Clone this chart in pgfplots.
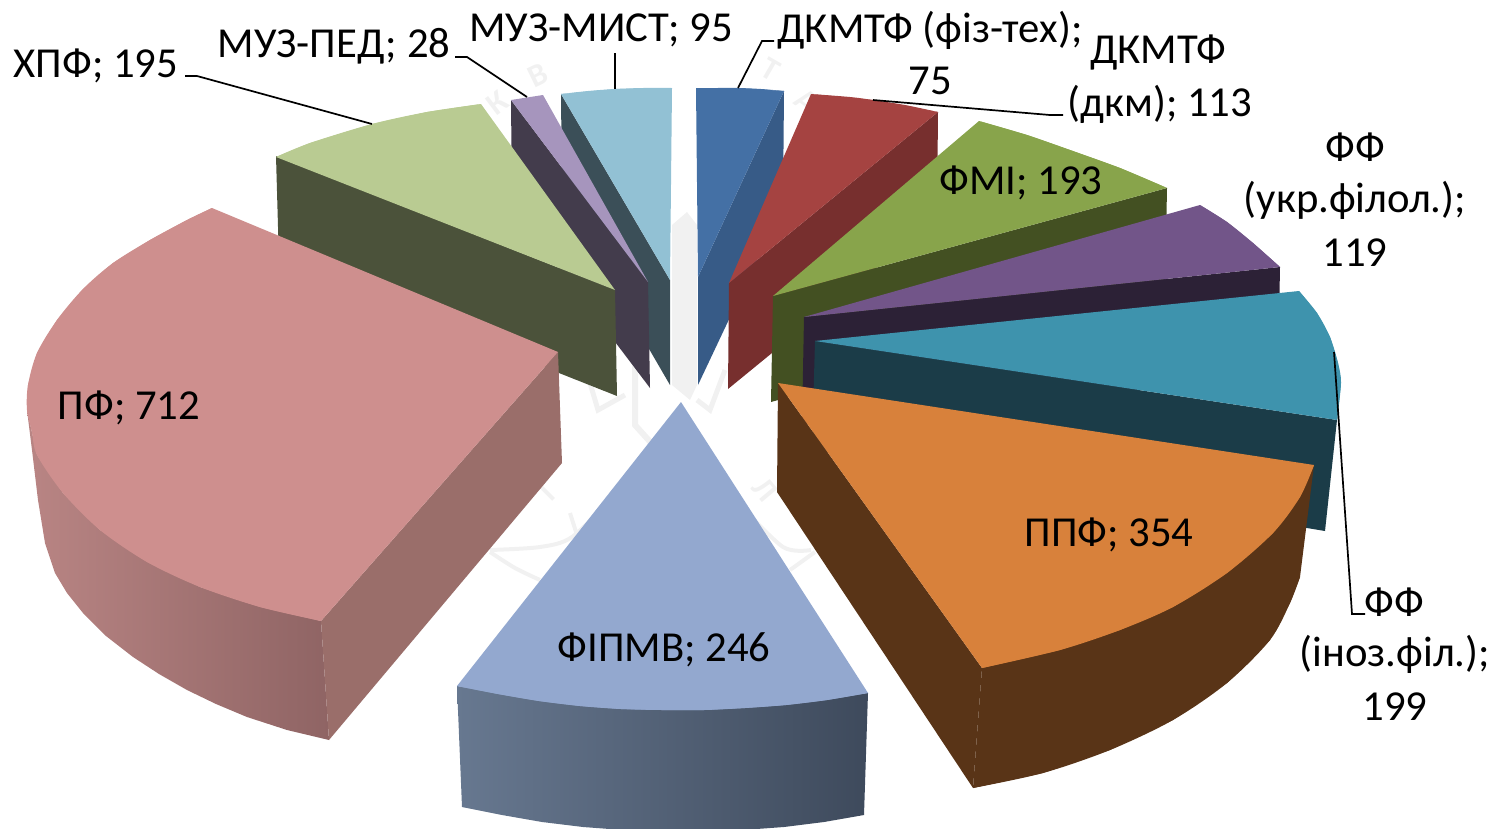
\documentclass[border=0pt]{standalone}
\usepackage{pgfplots}
\pgfplotsset{compat=1.18}
\usepackage{fontspec}
\setmainfont{Carlito}
\definecolor{bluT}{HTML}{4470A5}\definecolor{bluS}{HTML}{375B87}
\definecolor{redT}{HTML}{A54341}\definecolor{redS}{HTML}{772F2E}
\definecolor{grnT}{HTML}{88A44B}\definecolor{grnS}{HTML}{435022}
\definecolor{purT}{HTML}{725589}\definecolor{purS}{HTML}{2C2136}
\definecolor{teaT}{HTML}{3E93AD}\definecolor{teaS}{HTML}{1B3C48}
\definecolor{oraT}{HTML}{D8813B}\definecolor{oraS}{HTML}{593417}
\definecolor{lbuT}{HTML}{93A8CF}\definecolor{lbuA}{HTML}{677890}\definecolor{lbuB}{HTML}{3E4A5C}
\definecolor{pnkT}{HTML}{CE8F8E}\definecolor{pnkS}{HTML}{9A6E6A}\definecolor{pnkA}{HTML}{B98584}\definecolor{pnkB}{HTML}{8F6464}
\definecolor{lgrT}{HTML}{B9CB92}\definecolor{lgrS}{HTML}{4B523A}
\definecolor{lilT}{HTML}{A695BD}\definecolor{lilS}{HTML}{433C4C}
\definecolor{aquT}{HTML}{92C1D4}\definecolor{aquS}{HTML}{3B4F58}
\definecolor{wm}{HTML}{F1F1F1}
\pgfplotsset{face/.style={draw=none,fill=#1,no markers,forget plot},
 leader/.style={draw=black,line width=1.7pt,no markers,forget plot},
 wmline/.style={draw=wm,line width=#1,no markers,forget plot}}
\newcommand{\lab}[3]{\node[font=\fontsize{42.7}{48}\selectfont,inner sep=0pt,anchor=center,text=black] at (axis cs:#1,#2) {#3};}
\newcommand{\wl}[4]{\node[font=\fontsize{32}{36}\selectfont\bfseries,inner sep=0pt,text=wm,rotate=#4] at (axis cs:#1,#2) {#3};}
\begin{document}
\begin{tikzpicture}
\path[use as bounding box] (0,0) rectangle (1492pt,828pt);
\begin{axis}[at={(0,0)},anchor=south west,scale only axis,width=1492pt,height=828pt,
 xmin=0,xmax=1492,ymin=0,ymax=828,y dir=reverse,axis lines=none]
% faint watermark behind the chart
\wl{497}{103}{К}{37}\wl{538}{75}{В}{26}
\wl{771}{69}{Т}{-30}\wl{806}{101}{А}{-37}
\wl{547}{493}{Т}{45}\wl{765}{490}{Л}{-50}
\addplot[face=wm] coordinates {(687,212)(697,225)(697,385)(690,400)(672,385)(672,225)};
\addplot[wmline=6pt] coordinates {(635,300)(635,425)(653,445)};
\addplot[wmline=5pt] coordinates {(590,383)(598,410)(625,395)};
\addplot[wmline=5pt] coordinates {(725,370)(710,410)(697,400)};
\addplot[wmline=4pt,smooth] coordinates {(490,550)(540,547)(572,537)(613,497)};
\addplot[wmline=4pt,smooth] coordinates {(490,552)(515,568)(540,580)};
\addplot[wmline=4pt] coordinates {(570,513)(577,535)};
\addplot[wmline=4pt,smooth] coordinates {(740,505)(783,547)(811,550)};
\addplot[wmline=4pt] coordinates {(790,570)(815,552)};
% aqua
\addplot[face=aquS] coordinates {(561,94)(670,280)(670,385)(562,199)};
\addplot[face=aquT] coordinates {(561,94)(615,89)(672,88)(670,280)};
\addplot[face=aquT,smooth] coordinates {(561,94)(588,91)(615,89)(643,88)(672,88)};
% blue
\addplot[face=bluS] coordinates {(784,91)(698,277)(698,385)(783,205)};
\addplot[face=bluT] coordinates {(696,88)(738,88)(784,91)(698,277)};
\addplot[face=bluT,smooth] coordinates {(696,88)(717,88)(738,88)(761,89)(784,91)};
% red
\addplot[face=redS] coordinates {(938,112)(729,283)(728,389)(937,218)};
\addplot[face=redT] coordinates {(811,94)(873,100)(938,112)(729,283)};
\addplot[face=redT,smooth] coordinates {(811,94)(850,97)(873,100)(905,105)(938,112)};
% lilac
\addplot[face=lilS] coordinates {(511,100)(648,282)(650,388)(512,206)};
\addplot[face=lilT] coordinates {(511,100)(543,95)(648,282)};
% light green
\addplot[face=lgrS] coordinates {(615,290)(276,156)(279,262)(617,396)};
\addplot[face=lgrT] coordinates {(276,157)(310,143)(372,124)(427,112)(481,104)(615,290)};
\addplot[face=lgrT,smooth] coordinates {(276,157)(310,143)(372,124)(427,112)(481,104)};
% green
\addplot[face=grnS] coordinates {(773,296)(1167,188)(1165,293)(771,402)};
\addplot[face=grnT] coordinates {(979,121)(1027,135)(1070,150)(1120,168)(1167,188)(773,296)};
\addplot[face=grnT,smooth] coordinates {(979,121)(1027,135)(1070,150)(1120,168)(1167,188)};
% purple
\addplot[face=purS] coordinates {(804,317)(1280,267)(1278,375)(802,425)};
\addplot[face=purT] coordinates {(1200,205)(1227,222)(1253,243)(1280,267)(804,317)};
\addplot[face=purT,smooth] coordinates {(1200,205)(1227,222)(1253,243)(1280,267)};
% pink
\addplot[draw=none,left color=pnkA,right color=pnkB,no markers,forget plot] coordinates {(27,410)(32,450)(38,500)(45,543)(55,573)(67,593)(83,613)(106,636)(133,657)(159,674)(187,690)(216,704)(247,717)(287,730)(329,740)(321,621)(200,587)(100,530)(63,493)(37,455)};
\addplot[face=pnkS] coordinates {(558,352)(562,463)(329,740)(321,621)};
\addplot[face=pnkT] coordinates {(212,208)(187,220)(150,240)(113,263)(83,289)(57,320)(37,353)(28,385)(27,410)(32,432)(37,455)(63,493)(100,530)(147,562)(200,587)(260,607)(321,621)(558,352)};
\addplot[face=pnkT,smooth] coordinates {(212,208)(187,220)(150,240)(113,263)(83,289)(57,320)(37,353)(28,385)(27,410)(32,432)(37,455)(63,493)(100,530)(147,562)(200,587)(260,607)(321,621)};
% teal
\addplot[face=teaS] coordinates {(815,341)(1337,420)(1325,531)(1307,528)(812,450)};
\addplot[face=teaT] coordinates {(815,341)(1299,291)(1317,313)(1330,337)(1338,363)(1341,383)(1337,420)};
\addplot[face=teaT,smooth] coordinates {(1299,291)(1317,313)(1330,337)(1338,363)(1341,383)(1337,420)};
% orange
\addplot[face=oraS] coordinates {(778,383)(982,668)(973,788)(777,492)};
\addplot[face=oraS] coordinates {(1314,465)(1300,577)(1290,603)(1270,640)(1227,683)(1173,720)(1110,750)(1043,773)(973,788)(982,668)};
\addplot[face=oraS,smooth] coordinates {(1300,577)(1290,603)(1270,640)(1227,683)(1173,720)(1110,750)(1043,773)(973,788)};
\addplot[face=oraT] coordinates {(778,383)(1314,465)(1300,497)(1273,533)(1227,573)(1173,607)(1120,630)(1060,650)(982,668)};
\addplot[face=oraT,smooth] coordinates {(1314,465)(1300,497)(1273,533)(1227,573)(1173,607)(1120,630)(1060,650)(982,668)};
% light blue
\addplot[draw=none,left color=lbuA,right color=lbuB,no markers,forget plot] coordinates {(457,686)(462,807)(502,815)(542,822)(583,827)(623,830)(663,832)(703,832)(743,830)(784,827)(824,822)(864,815)(868,693)(662,710)};
\addplot[face=lbuT] coordinates {(681,402)(868,693)(827,700)(786,705)(745,708)(704,710)(662,710)(621,709)(580,706)(539,701)(498,694)(457,686)};
\addplot[face=lbuT,smooth] coordinates {(868,693)(827,700)(786,705)(745,708)(704,710)(662,710)(621,709)(580,706)(539,701)(498,694)(457,686)};
% leader lines
\addplot[leader] coordinates {(738,88)(762,41)(774,41)};
\addplot[leader] coordinates {(873,100)(1050,115)(1063,115)};
\addplot[leader] coordinates {(1334,352)(1352,614)(1365,614)};
\addplot[leader] coordinates {(185,76)(197,76)(372,124)};
\addplot[leader] coordinates {(455,57)(467,57)(527,97)};
\addplot[leader] coordinates {(615,53)(615,89)};
% labels
\lab{96}{66}{ХПФ; 195}
\lab{334}{46}{МУЗ-ПЕД; 28}
\lab{601}{30}{МУЗ-МИСТ; 95}
\lab{930}{30}{ДКМТФ (фіз-тех);}
\lab{930}{81}{75}
\lab{1158}{52}{ДКМТФ}
\lab{1160}{104}{(дкм); 113}
\lab{1021}{183}{ФМІ; 193}
\lab{1355}{147}{ФФ}
\lab{1355}{200}{(укр.філол.);}
\lab{1355}{253}{119}
\lab{1394}{602}{ФФ}
\lab{1395}{654}{(іноз.філ.);}
\lab{1395}{707}{199}
\lab{1109}{535}{ППФ; 354}
\lab{664}{650}{ФІПМВ; 246}
\lab{129}{408}{ПФ; 712}
\end{axis}
\end{tikzpicture}
\end{document}
